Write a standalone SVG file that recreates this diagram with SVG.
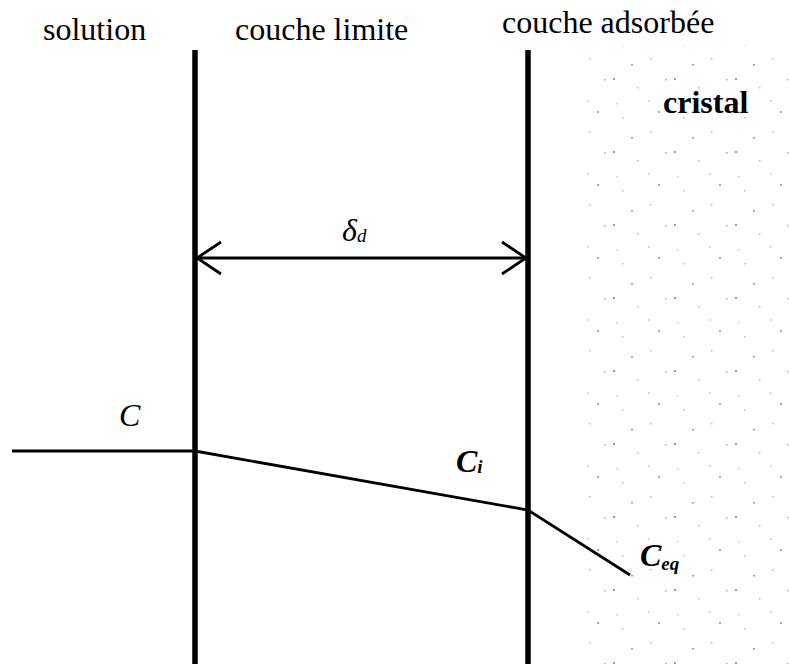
<svg xmlns="http://www.w3.org/2000/svg" width="789" height="664" viewBox="0 0 789 664">
<style>
.t{font-family:"Liberation Serif","Times New Roman",serif;font-size:32px;fill:#000}
.i{font-style:italic}
.b{font-weight:bold}
.wall{stroke:#000;stroke-width:5.5;fill:none}
.ln{stroke:#000;stroke-width:2.8;fill:none}
</style>
<defs>
<pattern id="dots" width="61" height="73" patternUnits="userSpaceOnUse">
<rect x="3" y="5" width="2" height="2" fill="#999"/>
<rect x="27" y="14" width="1.5" height="1.5" fill="#bbb"/>
<rect x="48" y="38" width="2" height="2" fill="#aaa"/>
<rect x="12" y="44" width="1.5" height="1.5" fill="#bbb"/>
<rect x="55" y="6" width="1.5" height="1.5" fill="#aaa"/>
<rect x="21" y="64" width="2" height="1.5" fill="#999"/>
<rect x="38" y="27" width="1.5" height="2" fill="#ccc"/>
<rect x="40" y="58" width="1.5" height="1.5" fill="#bbb"/>
<rect x="6" y="30" width="1.5" height="1.5" fill="#ccc"/>
</pattern>
<marker id="open" viewBox="0 0 27 36" refX="25" refY="18" markerWidth="27" markerHeight="36" markerUnits="userSpaceOnUse" orient="auto-start-reverse">
<path d="M1,2 L25,18 L1,34" fill="none" stroke="#000" stroke-width="2.8"/>
</marker>
</defs>
<rect width="789" height="664" fill="#fff"/>
<g id="crystal-region">
<rect x="585" y="45" width="204" height="619" fill="url(#dots)"/>
</g>
<g id="labels">
<text class="t" x="43" y="40">solution</text>
<text class="t" x="235" y="40">couche limite</text>
<text class="t" x="502" y="33">couche adsorbée</text>
<text class="t b" x="663" y="113">cristal</text>
</g>
<g id="wall-left"><line class="wall" x1="195" y1="50" x2="195" y2="664"/></g>
<g id="wall-right"><line class="wall" x1="528" y1="50" x2="528" y2="664"/></g>
<g id="connectors">
<line class="ln" x1="197" y1="258" x2="526" y2="258" marker-start="url(#open)" marker-end="url(#open)"/>
<polyline class="ln" points="12,451 195,451 528,510 630,575"/>
</g>
<g id="delta-label"><text class="t i" x="342" y="241" font-size="27">δ<tspan font-size="19" dy="1">d</tspan></text></g>
<g id="C-label"><text class="t i" x="119" y="426">C</text></g>
<g id="Ci-label"><text class="t i b" x="456" y="472" font-size="28">C<tspan font-size="19" dy="1">i</tspan></text></g>
<g id="Ceq-label"><text class="t i b" x="640" y="566" font-size="28">C<tspan font-size="19" dy="4">eq</tspan></text></g>
</svg>
